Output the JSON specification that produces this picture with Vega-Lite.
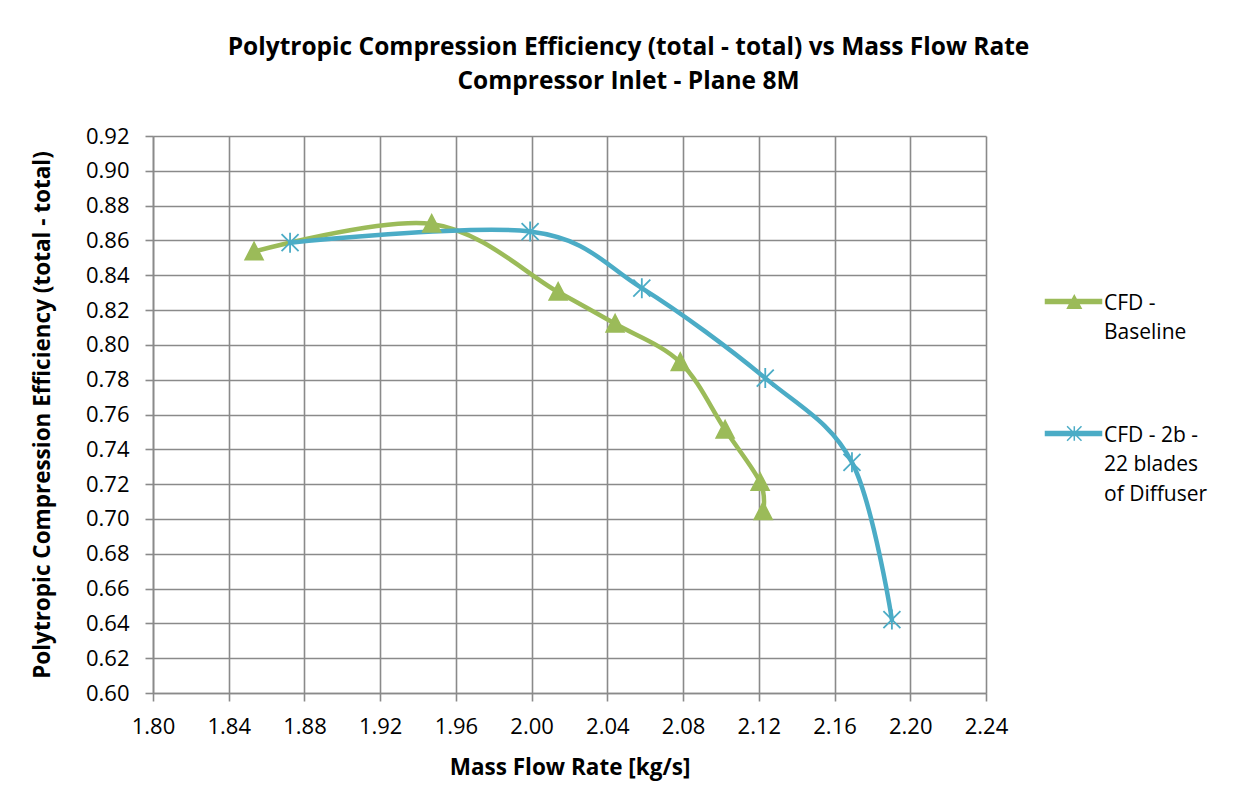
{
  "$schema": "https://vega.github.io/schema/vega-lite/v6.json",
  "width": 833,
  "height": 557,
  "autosize": "none",
  "padding": {"left": 153, "top": 136, "right": 267, "bottom": 103},
  "background": "white",
  "title": {
    "text": ["Polytropic Compression Efficiency (total - total) vs Mass Flow Rate", "Compressor Inlet - Plane 8M"],
    "anchor": "middle",
    "frame": "group",
    "dx": 59,
    "offset": 31,
    "font": "Open Sans",
    "fontSize": 24.5,
    "fontWeight": "bold",
    "lineHeight": 34,
    "color": "black"
  },
  "data": {
    "values": [
      {"series": "CFD - Baseline", "flow": 1.8534, "eff": 0.8536},
      {"series": "CFD - Baseline", "flow": 1.9472, "eff": 0.8695},
      {"series": "CFD - Baseline", "flow": 2.0140, "eff": 0.8304},
      {"series": "CFD - Baseline", "flow": 2.0441, "eff": 0.8121},
      {"series": "CFD - Baseline", "flow": 2.0785, "eff": 0.7900},
      {"series": "CFD - Baseline", "flow": 2.1022, "eff": 0.7512},
      {"series": "CFD - Baseline", "flow": 2.1207, "eff": 0.7211},
      {"series": "CFD - Baseline", "flow": 2.1223, "eff": 0.7044},
      {"series": "CFD - 2b - 22 blades of Diffuser", "flow": 1.8724, "eff": 0.8587},
      {"series": "CFD - 2b - 22 blades of Diffuser", "flow": 1.9992, "eff": 0.8651},
      {"series": "CFD - 2b - 22 blades of Diffuser", "flow": 2.0582, "eff": 0.8326},
      {"series": "CFD - 2b - 22 blades of Diffuser", "flow": 2.1234, "eff": 0.7809},
      {"series": "CFD - 2b - 22 blades of Diffuser", "flow": 2.1692, "eff": 0.7325},
      {"series": "CFD - 2b - 22 blades of Diffuser", "flow": 2.1903, "eff": 0.6422}
    ]
  },
  "encoding": {
    "x": {
      "field": "flow",
      "type": "quantitative",
      "scale": {"domain": [1.8, 2.24], "nice": false, "zero": false},
      "axis": {
        "title": "Mass Flow Rate [kg/s]",
        "values": [1.8, 1.84, 1.88, 1.92, 1.96, 2.0, 2.04, 2.08, 2.12, 2.16, 2.2, 2.24],
        "format": ".2f",
        "labelFlush": false,
        "labelPadding": 15,
        "titlePadding": 19
      }
    },
    "y": {
      "field": "eff",
      "type": "quantitative",
      "scale": {"domain": [0.6, 0.92], "nice": false, "zero": false},
      "axis": {
        "title": "Polytropic Compression Efficiency (total - total)",
        "values": [0.6, 0.62, 0.64, 0.66, 0.68, 0.7, 0.72, 0.74, 0.76, 0.78, 0.8, 0.82, 0.84, 0.86, 0.88, 0.9, 0.92],
        "format": ".2f",
        "labelFlush": false,
        "labelPadding": 16,
        "titlePadding": 31
      }
    }
  },
  "layer": [
    {
      "mark": {"type": "line", "interpolate": "cardinal", "tension": 0, "strokeWidth": 4.5, "strokeCap": "round", "strokeJoin": "round"},
      "encoding": {
        "color": {
          "field": "series",
          "type": "nominal",
          "sort": null,
          "scale": {"domain": ["CFD - Baseline", "CFD - 2b - 22 blades of Diffuser"], "range": ["#9BBB59", "#4BACC6"]},
          "legend": {
            "title": null,
            "orient": "none",
            "legendX": 890,
            "legendY": 155,
            "padding": 0,
            "rowPadding": 80,
            "symbolSize": 256,
            "symbolStrokeWidth": 1.5,
            "labelFont": "Open Sans",
            "labelFontSize": 21,
            "labelColor": "black",
            "labelOffset": 40,
            "labelBaseline": "alphabetic",
            "labelLimit": 300,
            "labelExpr": "datum.value == 'CFD - Baseline' ? ['CFD -', 'Baseline'] : ['CFD - 2b -', '22 blades', 'of Diffuser']",
            "encode": {
              "symbols": {
                "update": {
                  "shape": {"signal": "datum.value == 'CFD - Baseline' ? 'M-1,-0.25L6,-0.25L6,0.25L-1,0.25ZM2.6,-0.75L3.45,0.85L1.75,0.85Z' : 'M-1,-0.25L6,-0.25L6,0.25L-1,0.25ZM1.7,-0.9L3.5,0.9M1.7,0.9L3.5,-0.9M2.6,-0.9L2.6,0.9'"},
                  "fill": {"signal": "datum.value == 'CFD - Baseline' ? '#9BBB59' : '#4BACC6'"},
                  "strokeWidth": {"value": 1.5},
                  "opacity": {"value": 1},
                  "fillOpacity": {"value": 1},
                  "strokeOpacity": {"value": 1}
                }
              },
              "labels": {
                "update": {
                  "dy": {"value": 8},
                  "lineHeight": {"value": 29.5}
                }
              }
            }
          }
        }
      }
    },
    {
      "transform": [{"filter": "datum.series == 'CFD - Baseline'"}],
      "mark": {"type": "point", "filled": true, "fill": "#9BBB59", "stroke": "#9BBB59", "strokeWidth": 1.8, "opacity": 1, "size": 400, "shape": "M0,-0.9L0.88,0.8L-0.88,0.8Z"}
    },
    {
      "transform": [{"filter": "datum.series == 'CFD - 2b - 22 blades of Diffuser'"}],
      "mark": {"type": "point", "filled": false, "fill": null, "stroke": "#4BACC6", "strokeWidth": 1.8, "opacity": 1, "size": 400, "shape": "M-0.85,-0.85L0.85,0.85M-0.85,0.85L0.85,-0.85M0,-1L0,1"}
    }
  ],
  "config": {
    "font": "Open Sans",
    "view": {"stroke": null},
    "axis": {
      "labelFont": "Open Sans",
      "labelFontSize": 22,
      "labelColor": "black",
      "titleFont": "Open Sans",
      "titleFontSize": 22.5,
      "titleFontWeight": "bold",
      "titleColor": "black",
      "gridColor": "#8a8a8a",
      "gridWidth": 1.6,
      "gridOpacity": 1,
      "domainColor": "#8a8a8a",
      "domainWidth": 1.6,
      "tickColor": "#8a8a8a",
      "tickWidth": 1.6,
      "tickSize": 8
    }
  }
}
